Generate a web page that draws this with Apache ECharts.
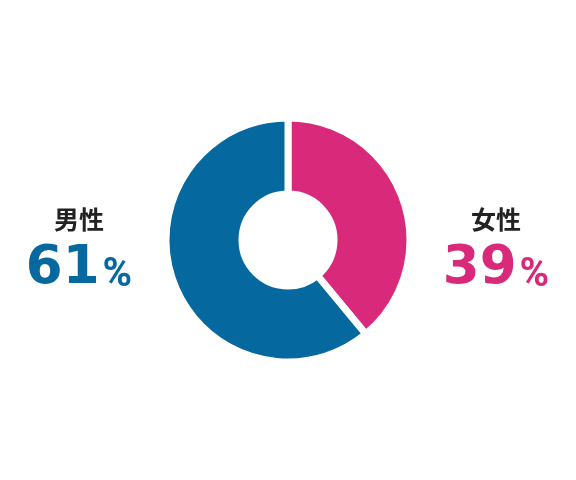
<!DOCTYPE html>
<html>
<head>
<meta charset="utf-8">
<script src="https://cdn.jsdelivr.net/npm/echarts@6/dist/echarts.min.js"></script>
<style>
  html, body { margin: 0; padding: 0; background: #fff; }
  #main { width: 576px; height: 480px; }
</style>
</head>
<body>
<div id="main"></div>
<script>
// 数据
var names = ['女性', '男性'];
var values = [39, 61];
var colors = ['#d9297b', '#05699f'];
// 标签的水平位置 (女性在右, 男性在左)
var labelX = [496, 79];

var chart = echarts.init(document.getElementById('main'));

var pieData = [];
var graphics = [];
for (var i = 0; i < names.length; i++) {
	pieData.push({
		name: names[i],
		value: values[i],
		itemStyle: { color: colors[i] }
	});
	graphics.push({
		type: 'text',
		x: labelX[i],
		y: 219,
		style: {
			text: names[i],
			align: 'center',
			verticalAlign: 'middle',
			fontSize: 25,
			fontWeight: 'bold',
			fontFamily: 'Noto Sans CJK JP',
			fill: '#222'
		}
	});
	graphics.push({
		type: 'text',
		x: labelX[i],
		y: 296,
		style: {
			text: '{n|' + values[i] + '}{p|%}',
			align: 'center',
			verticalAlign: 'bottom',
			rich: {
				n: {
					fontSize: 53,
					fontWeight: 'bold',
					fontFamily: 'DejaVu Sans',
					fill: colors[i],
					lineHeight: 53,
					verticalAlign: 'bottom'
				},
				p: {
					fontSize: 40,
					fontWeight: 'bold',
					fontFamily: 'Roboto',
					fill: colors[i],
					lineHeight: 42,
					padding: [0, 0, 0, 3],
					verticalAlign: 'bottom'
				}
			}
		}
	});
}

chart.setOption({
	backgroundColor: '#fff',
	animation: false,
	series: [{
		type: 'pie',
		center: [288, 240],
		radius: [46, 122],
		startAngle: 90,
		clockwise: true,
		silent: true,
		label: { show: false },
		labelLine: { show: false },
		itemStyle: { borderColor: '#fff', borderWidth: 7 },
		data: pieData
	}],
	graphic: graphics
});
</script>
</body>
</html>
